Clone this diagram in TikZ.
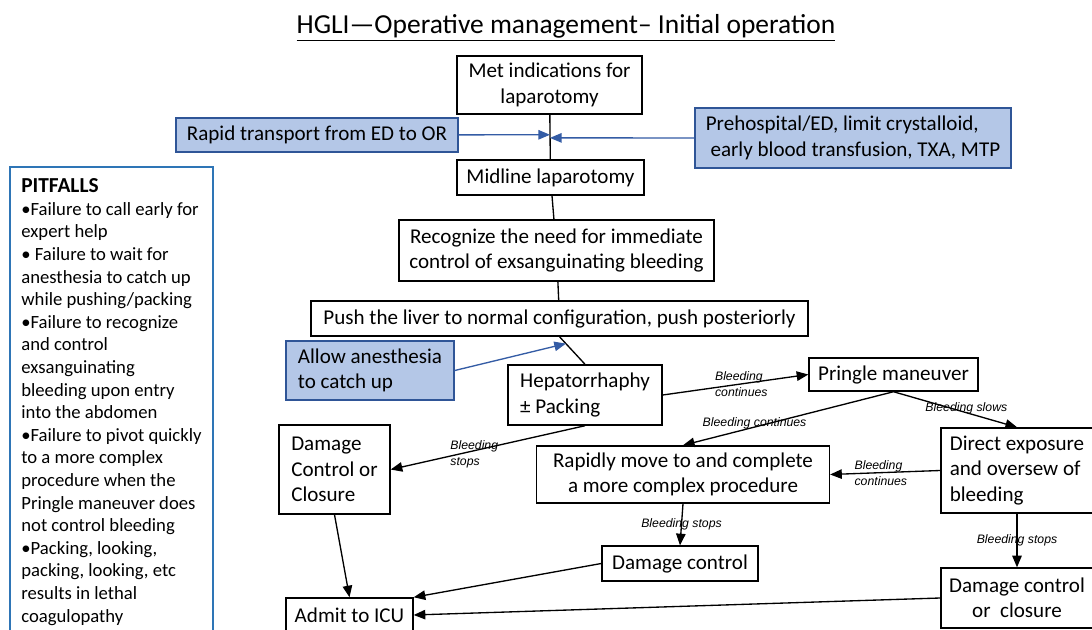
\documentclass[tikz,border=0pt]{standalone}
\usepackage{fontspec}
\setmainfont{Carlito}
\newfontfamily\lblfont{Liberation Sans}
\usetikzlibrary{arrows,positioning,calc}
\definecolor{boxblue}{RGB}{180,199,231}
\definecolor{edgeblue}{RGB}{47,85,151}
\definecolor{arrowblue}{RGB}{52,92,165}
\definecolor{pitblue}{RGB}{46,117,182}

\begin{document}
\begin{tikzpicture}[x=0.75pt, y=-0.75pt, ->, >=triangle 45, line width=1pt]
		\tikzstyle{every node}=[font=\fontsize{15.8}{19}\selectfont]
		\tikzstyle{stepbox}=[draw=black, fill=white, line width=1.1pt, inner sep=2pt, align=center]
		\tikzstyle{sidebox}=[draw=edgeblue, fill=boxblue, line width=1.1pt, inner sep=2pt, align=center]
		\tikzstyle{lbl}=[font=\lblfont\itshape\fontsize{9.2}{12}\selectfont, align=left, inner sep=0pt]
		\tikzstyle{bluearrow}=[draw=arrowblue, line width=1pt]
		\tikzset{wh/.style 2 args={minimum width=#1*0.75pt, minimum height=#2*0.75pt}}
		\path[fill=white] (0,0) rectangle (1092,630);
		\useasboundingbox (0,0) rectangle (1092,630);
		% title
		\node (title) at (566,28) {\fontsize{20.6}{24}\selectfont\underline{HGLI—Operative management– Initial operation}};
		% main column
		\node[stepbox, wh={185}{58}] (met) at (549.5,85) {Met indications for\\laparotomy};
		\node[sidebox, wh={282}{34}] (rapid) at (317,135) {Rapid transport from ED to OR};
		\node[sidebox, wh={316}{60}, align=left] (prehosp) at (853,138) {Prehospital/ED, limit crystalloid,\\ \ early blood transfusion, TXA, MTP};
		\node[stepbox, wh={187}{35}] (midline) at (550.5,177.5) {Midline laparotomy};
		\node[stepbox, wh={315}{61}] (recog) at (556.5,250.5) {Recognize the need for immediate\\control of exsanguinating bleeding};
		\node[stepbox, wh={497}{35}] (push) at (559.5,318.5) {Push the liver to normal configuration, push posteriorly};
		\node[sidebox, wh={168}{59}, align=left] (allow) at (370,370.5) {Allow anesthesia\\to catch up};
		\node[stepbox, wh={154}{60}, align=left] (hepato) at (585,395) {Hepatorrhaphy\\± Packing};
		\node[stepbox, wh={169}{33}] (pringle) at (893.5,374.5) {Pringle maneuver};
		\node[stepbox, wh={111}{89}, align=left] (dcc) at (334.5,469.5) {Damage\\Control or\\Closure};
		\node[stepbox, wh={293}{57}] (rapidly) at (683,474.5) {Rapidly move to and complete\\ a more complex procedure};
		\node[stepbox, wh={152}{85}, align=left] (direct) at (1017,470.5) {Direct exposure\\and oversew of\\bleeding};
		\node[stepbox, wh={156}{35}] (dcmid) at (680,563.5) {Damage control};
		\node[stepbox, wh={152}{60}] (dcright) at (1017,598) {Damage control\\or\ \ closure};
		\node[stepbox, wh={127}{34}] (icu) at (349.5,615) {Admit to ICU};
		% pitfalls
		\node[draw=pitblue, line width=1.1pt, wh={203}{470}, align=left, inner sep=7pt, font=\fontsize{14}{16.95}\selectfont] (pit) at (111.5,402) {{\fontsize{16}{16.95}\selectfont\textbf{PITFALLS}}\\
			•Failure to call early for\\expert help\\
			• Failure to wait for\\anesthesia to catch up\\while pushing/packing\\
			•Failure to recognize\\and control\\exsanguinating\\bleeding upon entry\\into the abdomen\\
			•Failure to pivot quickly\\to a more complex\\procedure when the\\Pringle maneuver does\\not control bleeding\\
			•Packing, looking,\\packing, looking, etc\\results in lethal\\coagulopathy};
		% connectors
		\coordinate (jl) at ($(met.south)!0.45!(midline.north)$);
		\coordinate (jr) at ($(met.south)!0.52!(midline.north)$);
		\coordinate (ja) at ($(push.south)!0.25!(hepato.north)$);
		\draw[-] (met) -- (midline);
		\draw[-] (midline) -- (recog);
		\draw[-] (recog) -- (push);
		\draw[-] (push.south) -- (hepato.north);
		\draw[bluearrow] (rapid) -- (jl);
		\draw[bluearrow] (prehosp) -- (jr);
		\draw[bluearrow] (allow.east) -- (ja);
		\draw (hepato.east) -- (pringle.west) node[lbl, pos=0.54] {Bleeding\\continues};
		\draw (hepato.south) -- (dcc.east) node[lbl, pos=0.57, yshift=-3pt] {Bleeding\\stops};
		\draw (pringle.south) -- (rapidly.north) node[lbl, pos=0.66, yshift=2.5pt] {Bleeding continues};
		\draw (pringle.south) -- (direct.north) node[lbl, pos=0.59, yshift=3.5pt] {Bleeding slows};
		\draw (direct.west) -- (rapidly.east) node[lbl, pos=0.54] {Bleeding\\continues};
		\draw (rapidly.south) -- (dcmid.north) node[lbl, pos=0.49] {Bleeding stops};
		\draw (direct.south) -- (dcright.north) node[lbl, pos=0.49] {Bleeding stops};
		\draw (dcc.south) -- (icu.north);
		\draw (dcmid.west) -- (icu.north east);
		\draw (dcright.west) -- (icu.east);
	\end{tikzpicture}
\end{document}
